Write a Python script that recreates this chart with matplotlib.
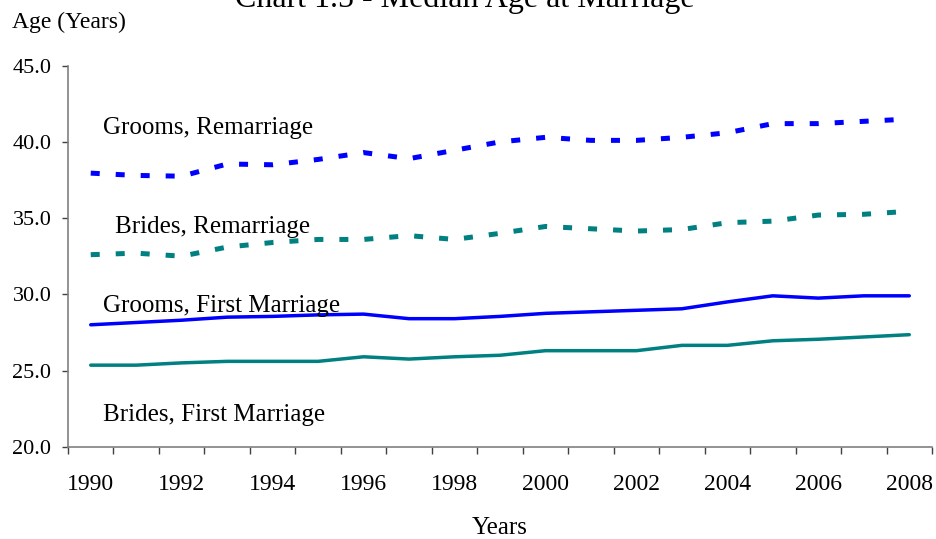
import matplotlib.pyplot as plt
import numpy as np

plt.rcParams['font.family'] = ['Liberation Serif', 'DejaVu Serif']

years = list(range(1990, 2009))
grooms_remarriage = [37.95, 37.8, 37.75, 38.55, 38.5, 38.85, 39.3, 38.9, 39.45, 40.0, 40.3,
                     40.1, 40.1, 40.3, 40.6, 41.2, 41.2, 41.35, 41.5]
brides_remarriage = [32.6, 32.7, 32.5, 33.1, 33.4, 33.6, 33.6, 33.85, 33.6, 34.0, 34.45,
                     34.3, 34.15, 34.25, 34.7, 34.8, 35.2, 35.25, 35.45]
grooms_first = [28.0, 28.15, 28.3, 28.5, 28.55, 28.65, 28.7, 28.4, 28.4, 28.55, 28.75,
                28.85, 28.95, 29.05, 29.5, 29.9, 29.75, 29.9, 29.9]
brides_first = [25.35, 25.35, 25.5, 25.6, 25.6, 25.6, 25.9, 25.75, 25.9, 26.0, 26.3,
                26.3, 26.3, 26.65, 26.65, 26.95, 27.05, 27.2, 27.35]

series_labels = ["Grooms, Remarriage", "Brides, Remarriage",
                 "Grooms, First Marriage", "Brides, First Marriage"]
yticks = [20.0, 25.0, 30.0, 35.0, 40.0, 45.0]

blue = '#0000FF'
teal = '#008080'
axis_grey = '#808080'

fig = plt.figure(figsize=(9.37, 5.39), dpi=100)
ax = fig.add_axes([68 / 937, 1 - 446.7 / 539, (932 - 68) / 937, (446.7 - 65.7) / 539])

x = np.arange(len(years))
ax.plot(x, grooms_remarriage, color=blue, lw=3.6, dashes=(1.8, 3.2), dash_capstyle='butt')
ax.plot(x, brides_remarriage, color=teal, lw=3.6, dashes=(1.8, 3.2), dash_capstyle='butt')
ax.plot(x, grooms_first, color=blue, lw=2.5, solid_capstyle='round', solid_joinstyle='round')
ax.plot(x, brides_first, color=teal, lw=2.5, solid_capstyle='round', solid_joinstyle='round')

ax.set_xlim(-0.5, len(years) - 0.5)
ax.set_ylim(20, 45)

# category axis: tick marks at boundaries, labels every other year at centers
ax.set_xticks(x[::2])
ax.set_xticklabels([str(y) for y in years[::2]])
ax.set_xticks(np.arange(-0.5, len(years)), minor=True)
ax.tick_params(axis='x', which='major', length=0, pad=20, labelsize=17)
ax.tick_params(axis='x', which='minor', length=5, width=1, color='#404040', direction='out')

ax.set_yticks(yticks)
ax.set_yticklabels([f"{v:.1f}" for v in yticks])
ax.tick_params(axis='y', length=4, width=1, color='#404040', pad=8, labelsize=16)

for s in ['top', 'right']:
    ax.spines[s].set_visible(False)
for s in ['left', 'bottom']:
    ax.spines[s].set_color(axis_grey)
    ax.spines[s].set_linewidth(1.2)

# series labels
txt_kw = dict(fontsize=18, ha='left', va='baseline')
ax.text(0.27, 40.5, series_labels[0], **txt_kw)
ax.text(0.53, 34.05, series_labels[1], **txt_kw)
ax.text(0.28, 28.85, series_labels[2], **txt_kw)
ax.text(0.28, 21.7, series_labels[3], **txt_kw)

fig.text(465 / 937, 1 - 7 / 539, "Chart 1.5 - Median Age at Marriage",
         fontsize=23, ha='center', va='baseline')
fig.text(12 / 937, 1 - 28 / 539, "Age (Years)", fontsize=17, ha='left', va='baseline')
fig.text(500 / 937, 1 - 528 / 539, "Years", fontsize=18, ha='center', va='center')

fig.savefig('out.png', dpi=100)
